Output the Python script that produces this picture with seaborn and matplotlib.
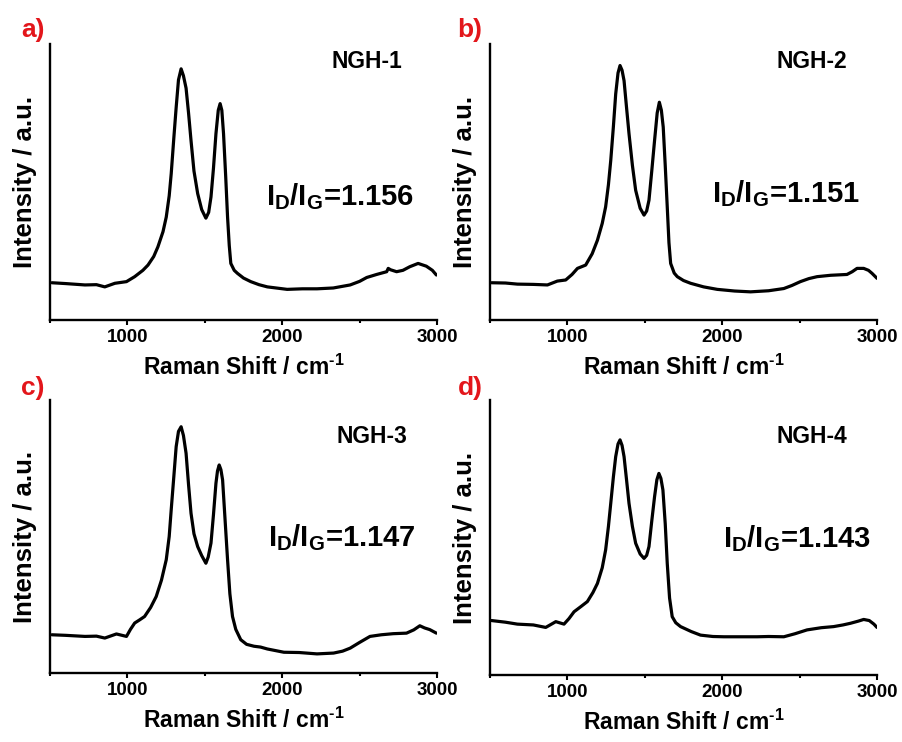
import numpy as np
import pandas as pd
import matplotlib
matplotlib.use("Agg")
import matplotlib.pyplot as plt
from matplotlib.ticker import MultipleLocator
import seaborn as sns

sns.set_theme(style="white")
plt.rcParams['font.family'] = ['Liberation Sans', 'DejaVu Sans']
plt.rcParams['font.weight'] = 'bold'
plt.rcParams['text.color'] = 'black'
plt.rcParams['axes.labelcolor'] = 'black'
plt.rcParams['xtick.color'] = 'black'
plt.rcParams['xtick.labelsize'] = 13.5
plt.rcParams['mathtext.fontset'] = 'custom'
plt.rcParams['mathtext.bf'] = 'Liberation Sans:bold'
plt.rcParams['mathtext.rm'] = 'Liberation Sans:bold'
plt.rcParams['mathtext.it'] = 'Liberation Sans:bold'
plt.rcParams['mathtext.default'] = 'bf'

# ---- data (intensity in arbitrary units) ----
panel_letters = ["a)", "b)", "c)", "d)"]
sample_names = ["NGH-1", "NGH-2", "NGH-3", "NGH-4"]
ratios = ["1.156", "1.151", "1.147", "1.143"]

shift_a = [512, 600, 726, 800, 854, 919, 994, 1047, 1100, 1133, 1170, 1197, 1230, 1251, 1270, 1283,
           1300, 1315, 1330, 1347, 1362, 1379, 1395, 1411, 1430, 1454, 1480, 1507, 1525, 1540, 1556,
           1572, 1587, 1599, 1610, 1621, 1635, 1647, 1658, 1668, 1690, 1711, 1750, 1797, 1850, 1904,
           2032, 2130, 2225, 2330, 2439, 2500, 2546, 2610, 2675, 2685, 2700, 2739, 2780, 2824, 2878,
           2931, 2970, 2996]
int_a = [13.5, 13.2, 12.7, 12.8, 12.0, 13.3, 13.9, 15.7, 18.0, 19.9, 23.0, 26.5, 32.0, 37.3, 45.0, 53.0,
         66.0, 77.0, 87.0, 91.0, 88.5, 84.0, 75.0, 65.0, 54.0, 45.8, 40.0, 36.9, 39.0, 44.6, 55.0,
         67.5, 76.0, 78.4, 76.0, 67.5, 52.0, 37.3, 27.0, 20.5, 18.0, 16.9, 15.2, 13.9, 12.8, 12.0,
         11.1, 11.3, 11.3, 11.6, 12.7, 14.0, 15.4, 16.5, 17.5, 18.7, 18.2, 17.5, 18.0, 19.3, 20.5,
         19.5, 18.0, 16.3]

shift_b = [510, 600, 677, 780, 871, 935, 989, 1030, 1065, 1118, 1160, 1194, 1225, 1247, 1265, 1280,
           1297, 1312, 1327, 1340, 1353, 1366, 1382, 1398, 1420, 1441, 1470, 1495, 1512, 1527, 1545,
           1563, 1580, 1594, 1607, 1619, 1632, 1645, 1656, 1667, 1690, 1710, 1750, 1796, 1880, 1968,
           2080, 2183, 2300, 2398, 2450, 2505, 2560, 2613, 2700, 2806, 2840, 2871, 2914, 2945, 2968, 3000]
int_b = [13.5, 13.4, 13.0, 12.9, 12.7, 14.1, 14.5, 16.5, 18.7, 19.9, 24.0, 28.9, 35.0, 41.0, 49.0, 57.8,
         70.0, 81.9, 89.5, 92.2, 90.5, 86.7, 77.0, 67.5, 56.0, 47.0, 40.5, 38.0, 39.5, 43.4, 54.0,
         65.0, 75.0, 78.9, 76.0, 69.9, 56.0, 41.0, 28.0, 20.5, 17.0, 15.7, 14.3, 13.3, 12.0, 11.1,
         10.5, 10.2, 10.6, 11.4, 12.5, 13.9, 15.0, 15.7, 16.2, 16.5, 17.5, 18.7, 18.7, 18.0, 16.9, 15.1]

shift_c = [512, 600, 726, 800, 854, 929, 994, 1020, 1047, 1080, 1111, 1150, 1186, 1220, 1251, 1270,
           1283, 1300, 1315, 1330, 1347, 1362, 1379, 1395, 1411, 1430, 1454, 1480, 1507, 1522, 1540,
           1556, 1572, 1582, 1593, 1604, 1615, 1630, 1647, 1662, 1679, 1700, 1732, 1770, 1818, 1860,
           1904, 2011, 2110, 2225, 2332, 2390, 2439, 2500, 2567, 2640, 2717, 2803, 2850, 2889, 2920,
           2953, 2996]
int_c = [14.0, 13.8, 13.4, 13.5, 12.8, 14.3, 13.4, 16.0, 18.3, 19.5, 20.7, 24.0, 28.0, 34.0, 41.5, 50.0,
         59.8, 72.0, 82.9, 88.5, 90.2, 87.0, 80.5, 69.0, 58.5, 51.0, 46.3, 43.0, 40.2, 42.5, 47.6,
         58.0, 69.5, 74.0, 76.2, 74.5, 70.7, 57.0, 41.5, 29.0, 20.7, 16.0, 12.2, 10.5, 9.8, 9.5,
         8.8, 7.6, 7.5, 7.0, 7.3, 8.0, 9.1, 11.2, 13.4, 14.0, 14.4, 14.6, 15.8, 17.3, 16.5,
         15.9, 14.6]

shift_d = [510, 600, 677, 780, 860, 925, 978, 1010, 1043, 1090, 1129, 1165, 1194, 1225, 1247, 1265,
           1280, 1297, 1312, 1327, 1340, 1353, 1366, 1382, 1398, 1420, 1441, 1470, 1495, 1512, 1527,
           1545, 1563, 1578, 1591, 1604, 1617, 1632, 1645, 1660, 1677, 1700, 1731, 1800, 1860, 1940,
           2011, 2120, 2226, 2300, 2398, 2470, 2548, 2640, 2720, 2780, 2828, 2880, 2914, 2950, 2980, 3000]
int_d = [19.8, 19.2, 18.5, 18.2, 17.3, 19.4, 18.5, 20.5, 23.0, 25.0, 26.7, 30.0, 33.3, 39.0, 45.5, 54.0,
         62.4, 72.0, 79.4, 84.0, 85.5, 83.5, 79.4, 71.0, 62.4, 54.0, 47.9, 44.0, 42.4, 43.5, 46.7,
         56.0, 64.8, 71.0, 73.3, 71.5, 67.3, 55.0, 40.6, 28.0, 21.2, 19.0, 17.6, 15.8, 14.5, 14.0,
         13.9, 13.9, 13.9, 14.0, 13.9, 15.0, 16.4, 17.2, 17.6, 18.2, 18.8, 19.6, 20.2, 19.8, 18.5, 17.3]

shifts = [shift_a, shift_b, shift_c, shift_d]
intens = [int_a, int_b, int_c, int_d]

# ---- layout ----
fig = plt.figure(figsize=(9.03, 7.42), dpi=100)
W, H = 903.0, 742.0
boxes = [(50, 44, 437, 320), (490, 44, 877, 320), (50, 400, 437, 673), (490, 400, 877, 675)]
name_pos = [(0.819, 0.935), (0.832, 0.935), (0.832, 0.868), (0.832, 0.869)]
ratio_pos = [(0.749, 0.417), (0.765, 0.428), (0.754, 0.465), (0.793, 0.465)]
letter_px = [(33, 30), (470, 30), (33, 388), (470, 388)]

for i in range(4):
    x0, y0, x1, y1 = boxes[i]
    ax = fig.add_axes([x0 / W, 1 - y1 / H, (x1 - x0) / W, (y1 - y0) / H])
    df = pd.DataFrame({"shift": shifts[i], "intensity": intens[i]})
    sns.lineplot(data=df, x="shift", y="intensity", ax=ax, color="black", lw=2.3, estimator=None)
    ax.set_xlim(500, 3000)
    ax.set_ylim(0, 100)
    for s in ["top", "right"]:
        ax.spines[s].set_visible(False)
    for s in ["left", "bottom"]:
        ax.spines[s].set_linewidth(1.7)
        ax.spines[s].set_color("black")
    ax.set_yticks([])
    ax.xaxis.set_major_locator(MultipleLocator(1000))
    ax.xaxis.set_minor_locator(MultipleLocator(500))
    ax.tick_params(axis="x", which="major", direction="out", length=3.5, width=1.5,
                   labelsize=13.5, pad=3, bottom=True, colors="black")
    ax.tick_params(axis="x", which="minor", direction="out", length=2, width=1.5, bottom=True)
    ax.set_xticks([1000, 2000, 3000])
    ax.set_xticklabels(["1000", "2000", "3000"], fontsize=13.5, fontweight="bold")
    ax.set_xlabel(r"Raman Shift / cm$^{\text{-1}}$", fontsize=16.5, fontweight="bold", labelpad=6)
    ax.set_ylabel("Intensity / a.u.", fontsize=18.5, fontweight="bold", labelpad=9)
    ax.text(name_pos[i][0], name_pos[i][1], sample_names[i], transform=ax.transAxes,
            ha="center", va="center", fontsize=16.5, fontweight="bold")
    ax.text(ratio_pos[i][0], ratio_pos[i][1], r"$I_D/I_G$=" + ratios[i], transform=ax.transAxes,
            ha="center", va="baseline", fontsize=21, fontweight="bold")
    fig.text(letter_px[i][0] / W, 1 - letter_px[i][1] / H, panel_letters[i], color="#e3161b",
             ha="center", va="center", fontsize=19, fontweight="bold")

fig.savefig("out.png", dpi=100)
